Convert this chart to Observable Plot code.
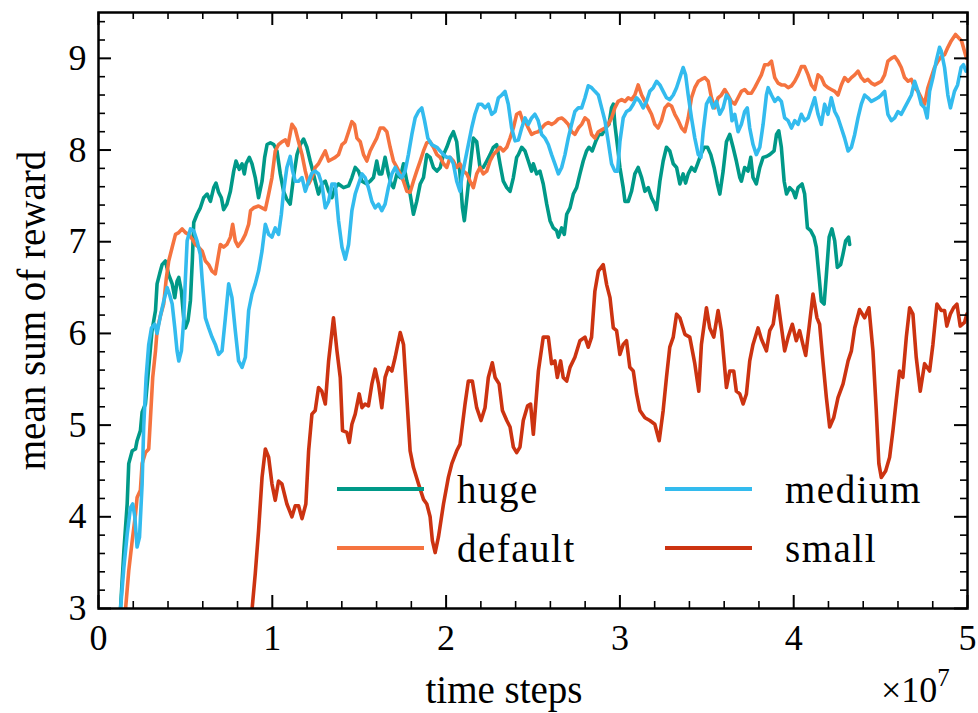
<!DOCTYPE html>
<html><head><meta charset="utf-8">
<script src="https://cdn.jsdelivr.net/npm/d3@7"></script>
<script src="https://cdn.jsdelivr.net/npm/@observablehq/plot@0.6"></script>
<style>
html,body{margin:0;padding:0;background:#fff;}
#chart{width:978px;height:713px;}
svg text{font-family:"Liberation Serif","DejaVu Serif","Noto Serif","Times New Roman",Times,serif !important;}
</style></head><body><div id="chart"></div>
<script>
// ---- data: [time steps (x1e7), mean sum of reward] ----
const huge = [[0.126,2.98],[0.146,3.63],[0.165,4.14],[0.174,4.58],[0.194,4.72],[0.213,4.74],[0.222,4.83],[0.241,4.94],[0.251,5.14],[0.270,5.23],[0.289,5.63],[0.308,6.03],[0.328,6.25],[0.337,6.54],[0.356,6.68],[0.366,6.75],[0.385,6.79],[0.404,6.64],[0.424,6.54],[0.439,6.39],[0.452,6.57],[0.462,6.61],[0.477,6.46],[0.490,6.17],[0.500,6.06],[0.515,6.14],[0.529,6.36],[0.540,6.80],[0.548,7.21],[0.567,7.30],[0.586,7.37],[0.605,7.48],[0.625,7.52],[0.644,7.44],[0.663,7.59],[0.676,7.64],[0.691,7.54],[0.707,7.48],[0.720,7.35],[0.739,7.41],[0.759,7.55],[0.778,7.77],[0.791,7.88],[0.810,7.79],[0.826,7.85],[0.839,7.74],[0.849,7.85],[0.868,7.92],[0.883,7.85],[0.902,7.70],[0.921,7.48],[0.941,7.66],[0.956,7.92],[0.970,8.06],[0.989,8.08],[1.008,8.06],[1.027,7.99],[1.046,7.74],[1.065,7.55],[1.084,7.46],[1.103,7.41],[1.122,7.70],[1.142,7.95],[1.161,8.06],[1.180,8.12],[1.199,8.03],[1.218,7.88],[1.228,7.81],[1.247,7.66],[1.266,7.52],[1.285,7.63],[1.305,7.66],[1.324,7.55],[1.343,7.48],[1.362,7.59],[1.381,7.63],[1.410,7.59],[1.439,7.61],[1.458,7.70],[1.477,7.81],[1.496,7.77],[1.516,7.66],[1.544,7.63],[1.563,7.66],[1.582,7.70],[1.601,7.88],[1.615,7.74],[1.630,7.74],[1.649,7.92],[1.668,7.74],[1.684,7.63],[1.697,7.59],[1.717,7.74],[1.736,7.70],[1.755,7.85],[1.774,7.66],[1.793,7.52],[1.812,7.30],[1.831,7.44],[1.851,7.63],[1.870,7.70],[1.889,7.95],[1.908,7.92],[1.927,7.81],[1.947,7.77],[1.966,7.81],[1.985,7.95],[2.004,8.03],[2.023,8.13],[2.042,8.20],[2.061,8.09],[2.080,7.74],[2.094,7.37],[2.105,7.23],[2.122,7.52],[2.138,7.81],[2.157,8.13],[2.176,8.09],[2.195,7.81],[2.214,7.81],[2.234,7.88],[2.253,7.95],[2.272,8.03],[2.291,8.06],[2.310,7.85],[2.329,7.66],[2.349,7.59],[2.368,7.55],[2.387,7.70],[2.406,7.92],[2.416,7.95],[2.435,8.03],[2.454,7.99],[2.473,7.88],[2.492,7.77],[2.502,7.85],[2.521,7.74],[2.540,7.77],[2.559,7.63],[2.579,7.41],[2.598,7.23],[2.617,7.15],[2.636,7.12],[2.646,7.05],[2.665,7.15],[2.680,7.08],[2.694,7.30],[2.713,7.37],[2.732,7.52],[2.751,7.59],[2.770,7.74],[2.789,7.88],[2.808,7.99],[2.822,8.03],[2.841,7.99],[2.860,8.09],[2.879,8.17],[2.898,8.17],[2.917,8.24],[2.937,8.28],[2.952,8.46],[2.962,8.50],[2.971,8.28],[2.987,8.03],[3.000,7.81],[3.019,7.59],[3.029,7.44],[3.048,7.44],[3.067,7.55],[3.086,7.74],[3.105,7.81],[3.125,7.70],[3.144,7.55],[3.163,7.59],[3.182,7.48],[3.201,7.41],[3.211,7.35],[3.230,7.66],[3.249,7.88],[3.268,8.03],[3.287,7.99],[3.307,7.85],[3.326,7.81],[3.345,7.63],[3.364,7.74],[3.378,7.64],[3.393,7.74],[3.412,7.81],[3.431,7.77],[3.447,7.85],[3.466,7.95],[3.485,8.03],[3.504,8.03],[3.523,7.95],[3.542,7.81],[3.561,7.63],[3.575,7.52],[3.594,7.77],[3.613,8.09],[3.632,8.17],[3.651,8.03],[3.670,7.88],[3.690,7.70],[3.699,7.66],[3.718,7.81],[3.737,7.77],[3.753,7.92],[3.766,7.70],[3.785,7.63],[3.805,7.81],[3.824,7.92],[3.843,7.93],[3.862,7.95],[3.887,7.99],[3.901,8.17],[3.914,8.21],[3.929,8.03],[3.945,7.66],[3.959,7.52],[3.977,7.59],[3.997,7.55],[4.010,7.48],[4.025,7.59],[4.048,7.63],[4.063,7.52],[4.079,7.15],[4.098,7.12],[4.117,7.05],[4.130,6.94],[4.145,6.64],[4.159,6.35],[4.175,6.32],[4.188,6.64],[4.204,7.05],[4.220,7.14],[4.236,7.01],[4.251,6.72],[4.270,6.75],[4.283,6.86],[4.299,7.01],[4.316,7.05],[4.322,6.97]];

const defaultRun = [[0.155,2.98],[0.174,3.41],[0.194,3.74],[0.213,4.03],[0.222,4.21],[0.241,4.29],[0.251,4.58],[0.270,4.70],[0.289,4.74],[0.299,5.08],[0.312,5.52],[0.328,5.81],[0.337,6.03],[0.356,6.19],[0.375,6.32],[0.390,6.60],[0.404,6.79],[0.424,6.94],[0.443,7.08],[0.462,7.10],[0.481,7.14],[0.500,7.10],[0.519,7.08],[0.539,7.03],[0.557,6.97],[0.576,6.94],[0.596,6.90],[0.615,6.79],[0.634,6.75],[0.653,6.68],[0.672,6.65],[0.691,6.86],[0.701,6.97],[0.720,6.94],[0.739,6.97],[0.759,7.05],[0.772,7.19],[0.787,7.01],[0.803,6.95],[0.826,7.01],[0.845,7.08],[0.864,7.19],[0.875,7.34],[0.893,7.37],[0.921,7.39],[0.941,7.37],[0.960,7.35],[0.979,7.52],[0.998,7.70],[1.017,7.99],[1.036,8.06],[1.055,8.09],[1.075,8.11],[1.090,8.05],[1.113,8.28],[1.132,8.23],[1.151,8.09],[1.171,7.95],[1.190,7.77],[1.209,7.63],[1.228,7.70],[1.247,7.81],[1.266,7.85],[1.285,7.92],[1.305,7.99],[1.324,7.88],[1.343,7.90],[1.362,7.92],[1.381,7.95],[1.401,8.06],[1.420,8.09],[1.439,8.20],[1.458,8.31],[1.473,8.28],[1.487,8.13],[1.506,8.09],[1.525,7.95],[1.544,7.88],[1.563,7.99],[1.582,8.06],[1.601,8.13],[1.621,8.24],[1.640,8.24],[1.659,8.20],[1.678,8.03],[1.697,7.88],[1.717,7.81],[1.736,7.74],[1.755,7.66],[1.774,7.55],[1.793,7.54],[1.812,7.66],[1.831,7.77],[1.851,7.88],[1.870,7.99],[1.889,8.08],[1.908,8.09],[1.927,8.03],[1.947,7.95],[1.966,7.92],[1.985,7.85],[2.004,7.81],[2.023,7.92],[2.042,7.88],[2.061,7.81],[2.080,7.85],[2.100,7.77],[2.119,7.74],[2.138,7.66],[2.157,7.59],[2.176,7.74],[2.195,7.81],[2.214,7.74],[2.234,7.77],[2.253,7.88],[2.272,7.95],[2.291,7.99],[2.310,8.03],[2.329,7.99],[2.349,8.03],[2.368,8.13],[2.387,8.24],[2.406,8.39],[2.425,8.41],[2.444,8.30],[2.454,8.32],[2.473,8.24],[2.492,8.17],[2.511,8.19],[2.530,8.20],[2.550,8.24],[2.569,8.28],[2.588,8.30],[2.607,8.28],[2.626,8.30],[2.646,8.34],[2.665,8.35],[2.684,8.32],[2.703,8.28],[2.722,8.20],[2.741,8.17],[2.761,8.24],[2.780,8.28],[2.799,8.35],[2.818,8.32],[2.837,8.17],[2.856,8.13],[2.876,8.20],[2.895,8.22],[2.914,8.24],[2.933,8.28],[2.952,8.35],[2.971,8.46],[2.990,8.53],[3.010,8.55],[3.029,8.53],[3.048,8.57],[3.067,8.55],[3.086,8.60],[3.105,8.71],[3.125,8.60],[3.144,8.53],[3.163,8.46],[3.182,8.39],[3.201,8.28],[3.220,8.24],[3.239,8.32],[3.259,8.46],[3.278,8.50],[3.297,8.48],[3.316,8.39],[3.336,8.32],[3.355,8.24],[3.374,8.20],[3.393,8.35],[3.412,8.57],[3.431,8.68],[3.451,8.75],[3.469,8.77],[3.489,8.79],[3.508,8.75],[3.527,8.57],[3.546,8.46],[3.565,8.57],[3.584,8.60],[3.603,8.66],[3.622,8.60],[3.641,8.53],[3.661,8.50],[3.680,8.57],[3.699,8.64],[3.718,8.66],[3.737,8.62],[3.757,8.62],[3.776,8.68],[3.795,8.75],[3.814,8.82],[3.833,8.93],[3.853,8.93],[3.872,8.97],[3.891,8.79],[3.910,8.73],[3.929,8.71],[3.948,8.71],[3.968,8.68],[3.987,8.70],[4.006,8.75],[4.025,8.82],[4.044,8.91],[4.063,8.91],[4.083,8.82],[4.102,8.71],[4.121,8.66],[4.140,8.82],[4.159,8.79],[4.178,8.71],[4.197,8.68],[4.216,8.66],[4.236,8.64],[4.255,8.60],[4.274,8.71],[4.293,8.79],[4.313,8.75],[4.332,8.79],[4.351,8.82],[4.370,8.86],[4.389,8.79],[4.408,8.75],[4.427,8.77],[4.447,8.73],[4.466,8.71],[4.485,8.73],[4.504,8.75],[4.523,8.82],[4.542,8.97],[4.562,9.00],[4.581,9.02],[4.600,8.97],[4.619,8.90],[4.638,8.79],[4.658,8.75],[4.677,8.77],[4.696,8.68],[4.715,8.64],[4.734,8.57],[4.753,8.50],[4.772,8.68],[4.791,8.79],[4.810,8.90],[4.830,8.97],[4.849,9.02],[4.868,9.04],[4.887,9.12],[4.906,9.19],[4.931,9.26],[4.966,9.19],[4.994,9.00]];

const medium = [[0.126,2.98],[0.146,3.45],[0.165,3.81],[0.184,4.10],[0.197,4.14],[0.209,4.00],[0.222,3.67],[0.236,3.78],[0.251,4.36],[0.260,4.98],[0.274,5.52],[0.289,5.88],[0.305,6.06],[0.324,6.10],[0.337,6.00],[0.356,6.19],[0.375,6.35],[0.395,6.50],[0.408,6.43],[0.424,6.32],[0.439,6.06],[0.452,5.81],[0.462,5.70],[0.477,5.81],[0.490,6.14],[0.500,6.60],[0.510,7.01],[0.529,7.14],[0.548,7.12],[0.567,7.01],[0.586,6.86],[0.596,6.60],[0.615,6.17],[0.634,6.06],[0.653,5.96],[0.672,5.88],[0.691,5.77],[0.711,5.81],[0.730,6.17],[0.749,6.54],[0.768,6.39],[0.787,6.03],[0.806,5.70],[0.826,5.63],[0.845,5.74],[0.864,6.25],[0.883,6.43],[0.902,6.54],[0.921,6.68],[0.941,6.90],[0.960,7.19],[0.979,7.08],[0.998,7.05],[1.017,7.15],[1.036,7.08],[1.052,7.30],[1.065,7.55],[1.084,7.81],[1.103,7.93],[1.117,7.77],[1.132,7.66],[1.151,7.66],[1.171,7.70],[1.190,7.55],[1.209,7.66],[1.228,7.75],[1.247,7.77],[1.266,7.74],[1.285,7.63],[1.305,7.37],[1.324,7.44],[1.343,7.63],[1.362,7.63],[1.381,7.23],[1.401,6.94],[1.420,6.81],[1.439,6.97],[1.458,7.34],[1.477,7.52],[1.496,7.63],[1.516,7.74],[1.534,7.70],[1.553,7.59],[1.573,7.44],[1.592,7.37],[1.611,7.41],[1.630,7.34],[1.649,7.41],[1.668,7.59],[1.688,7.74],[1.707,7.81],[1.726,7.74],[1.745,7.70],[1.764,7.77],[1.783,7.95],[1.803,8.17],[1.822,8.35],[1.841,8.42],[1.860,8.46],[1.876,8.32],[1.895,8.13],[1.917,8.06],[1.947,8.03],[1.966,7.99],[1.985,7.95],[2.004,7.92],[2.023,7.92],[2.042,7.85],[2.061,7.66],[2.080,7.55],[2.090,7.70],[2.109,7.88],[2.128,8.06],[2.147,8.24],[2.166,8.39],[2.186,8.50],[2.205,8.50],[2.224,8.46],[2.243,8.50],[2.262,8.39],[2.282,8.42],[2.301,8.57],[2.320,8.60],[2.339,8.64],[2.358,8.50],[2.377,8.24],[2.397,8.10],[2.416,8.11],[2.435,8.24],[2.454,8.35],[2.473,8.28],[2.492,8.35],[2.511,8.39],[2.530,8.32],[2.550,8.17],[2.569,8.13],[2.588,8.06],[2.607,7.95],[2.626,7.85],[2.646,7.74],[2.665,7.81],[2.684,7.95],[2.703,8.13],[2.722,8.28],[2.741,8.42],[2.761,8.46],[2.780,8.46],[2.799,8.57],[2.818,8.70],[2.837,8.68],[2.856,8.64],[2.876,8.60],[2.895,8.46],[2.914,8.32],[2.933,8.09],[2.952,7.85],[2.971,7.77],[2.987,7.77],[3.000,8.09],[3.019,8.35],[3.038,8.42],[3.057,8.44],[3.077,8.50],[3.096,8.57],[3.115,8.53],[3.134,8.46],[3.153,8.53],[3.172,8.64],[3.192,8.68],[3.211,8.75],[3.230,8.71],[3.249,8.64],[3.268,8.57],[3.287,8.55],[3.307,8.60],[3.326,8.68],[3.345,8.79],[3.364,8.90],[3.378,8.82],[3.393,8.60],[3.412,8.35],[3.431,8.13],[3.451,7.95],[3.466,7.92],[3.479,8.20],[3.498,8.50],[3.517,8.57],[3.536,8.46],[3.556,8.53],[3.575,8.39],[3.594,8.46],[3.613,8.60],[3.632,8.55],[3.645,8.32],[3.661,8.39],[3.680,8.20],[3.699,8.28],[3.718,8.42],[3.733,8.46],[3.747,8.24],[3.766,8.06],[3.785,7.95],[3.805,8.03],[3.824,8.28],[3.843,8.60],[3.853,8.68],[3.872,8.60],[3.891,8.53],[3.910,8.57],[3.929,8.53],[3.948,8.35],[3.968,8.32],[3.987,8.24],[4.006,8.32],[4.025,8.28],[4.044,8.39],[4.063,8.32],[4.083,8.35],[4.102,8.46],[4.121,8.57],[4.140,8.39],[4.159,8.28],[4.178,8.50],[4.197,8.39],[4.216,8.57],[4.236,8.42],[4.255,8.35],[4.274,8.24],[4.293,8.13],[4.313,7.99],[4.332,8.03],[4.351,8.17],[4.370,8.35],[4.389,8.50],[4.408,8.60],[4.427,8.57],[4.447,8.53],[4.466,8.55],[4.485,8.57],[4.504,8.60],[4.523,8.64],[4.542,8.39],[4.562,8.32],[4.581,8.35],[4.600,8.42],[4.619,8.39],[4.638,8.46],[4.658,8.53],[4.677,8.60],[4.696,8.75],[4.715,8.64],[4.734,8.50],[4.753,8.46],[4.768,8.35],[4.782,8.64],[4.801,8.79],[4.820,8.97],[4.839,9.12],[4.849,9.08],[4.868,8.90],[4.887,8.60],[4.902,8.46],[4.925,8.64],[4.943,8.71],[4.963,8.90],[4.977,8.93],[4.991,8.86]];

const small = [[0.883,2.98],[0.902,3.38],[0.921,3.85],[0.941,4.43],[0.960,4.74],[0.979,4.65],[0.998,4.36],[1.017,4.18],[1.036,4.39],[1.055,4.36],[1.084,4.14],[1.113,4.00],[1.132,4.12],[1.151,4.12],[1.171,3.98],[1.193,4.14],[1.209,4.72],[1.228,5.12],[1.247,5.16],[1.266,5.41],[1.285,5.37],[1.305,5.23],[1.324,5.70],[1.352,6.17],[1.372,5.81],[1.391,5.52],[1.404,4.94],[1.429,4.92],[1.443,4.81],[1.458,5.01],[1.477,5.12],[1.500,5.34],[1.516,5.19],[1.534,5.23],[1.553,5.21],[1.573,5.45],[1.592,5.61],[1.611,5.45],[1.630,5.19],[1.649,5.52],[1.668,5.63],[1.688,5.59],[1.707,5.74],[1.736,6.01],[1.755,5.88],[1.774,5.30],[1.793,4.72],[1.812,4.54],[1.841,4.36],[1.870,4.19],[1.889,4.14],[1.908,4.00],[1.921,3.74],[1.937,3.61],[1.956,3.78],[1.985,4.14],[2.013,4.43],[2.033,4.58],[2.061,4.72],[2.080,4.79],[2.109,5.23],[2.128,5.48],[2.151,5.48],[2.176,5.19],[2.201,5.05],[2.224,5.19],[2.243,5.52],[2.266,5.68],[2.282,5.52],[2.305,5.45],[2.324,5.16],[2.349,5.05],[2.368,4.98],[2.387,4.76],[2.406,4.70],[2.425,4.76],[2.444,5.05],[2.469,5.21],[2.486,5.23],[2.502,4.90],[2.531,5.59],[2.559,5.96],[2.588,5.96],[2.607,5.67],[2.626,5.70],[2.640,5.52],[2.659,5.70],[2.674,5.52],[2.694,5.48],[2.713,5.63],[2.741,5.74],[2.770,5.92],[2.799,5.96],[2.818,5.85],[2.837,5.96],[2.856,6.46],[2.876,6.68],[2.904,6.75],[2.924,6.53],[2.943,6.39],[2.962,6.06],[2.981,6.03],[3.000,5.77],[3.019,5.88],[3.038,5.92],[3.057,5.63],[3.077,5.59],[3.096,5.34],[3.115,5.16],[3.144,5.08],[3.172,5.05],[3.201,5.01],[3.226,4.83],[3.249,5.16],[3.268,5.52],[3.287,5.85],[3.307,5.96],[3.326,6.21],[3.345,6.17],[3.374,5.99],[3.402,5.96],[3.431,5.67],[3.454,5.37],[3.469,5.88],[3.498,6.28],[3.517,6.06],[3.540,5.96],[3.565,6.25],[3.584,6.03],[3.613,5.41],[3.632,5.59],[3.655,5.59],[3.670,5.37],[3.690,5.34],[3.709,5.23],[3.728,5.34],[3.747,5.70],[3.766,5.88],[3.795,6.06],[3.814,5.94],[3.843,5.81],[3.862,6.03],[3.882,6.10],[3.905,6.41],[3.924,6.14],[3.948,5.81],[3.968,5.96],[3.992,6.10],[4.015,5.92],[4.034,6.03],[4.053,5.88],[4.069,5.76],[4.088,6.06],[4.111,6.43],[4.134,6.17],[4.149,6.10],[4.168,5.70],[4.188,5.30],[4.207,4.98],[4.230,5.08],[4.255,5.30],[4.284,5.45],[4.313,5.70],[4.332,5.81],[4.351,6.06],[4.379,6.26],[4.408,6.17],[4.433,6.28],[4.456,5.81],[4.475,5.16],[4.490,4.58],[4.504,4.43],[4.529,4.50],[4.552,4.65],[4.571,4.94],[4.590,5.27],[4.609,5.59],[4.628,5.52],[4.648,5.96],[4.667,6.28],[4.686,6.21],[4.705,5.74],[4.728,5.37],[4.753,5.67],[4.782,5.59],[4.801,5.88],[4.824,6.32],[4.849,6.25],[4.868,6.25],[4.881,6.08],[4.901,6.21],[4.920,6.28],[4.939,6.32],[4.958,6.08],[4.983,6.12],[4.996,6.21]];

const seriesNames = ["huge", "default", "medium", "small"];
const seriesColors = ["#009988", "#F5733F", "#33BBEE", "#CC3311"];
const xMajor = [0, 1, 2, 3, 4, 5];
const xMinor = [0.2,0.4,0.6,0.8,1.2,1.4,1.6,1.8,2.2,2.4,2.6,2.8,3.2,3.4,3.6,3.8,4.2,4.4,4.6,4.8];
const yMajor = [3, 4, 5, 6, 7, 8, 9];
const yMinor = [3.2,3.4,3.6,3.8,4.2,4.4,4.6,4.8,5.2,5.4,5.6,5.8,6.2,6.4,6.6,6.8,7.2,7.4,7.6,7.8,8.2,8.4,8.6,8.8,9.2,9.4];
const xLabel = "time steps";
const yLabel = "mean sum of reward";

// ---- layout ----
const W = 978, H = 713, mt = 12, mr = 11, mb = 105, ml = 98;
const ih = H - mt - mb, iw = W - ml - mr;
const FONT = "'Liberation Serif', 'DejaVu Serif', 'Noto Serif', serif";
const FS = 36, LFS = 39, LS = "1.5px";
const majorLen = 13, minorLen = 7;

const runs = [huge, defaultRun, medium, small];
const rows = [];
runs.forEach((run, i) => run.forEach(([t, v]) => rows.push({series: seriesNames[i], t, v})));

const tickRules = (len, w) => [
  Plot.ruleX(len === majorLen ? xMajor : xMinor, {x: d => d, insetTop: ih - len, stroke: "black", strokeWidth: w}),
  Plot.ruleX(len === majorLen ? xMajor : xMinor, {x: d => d, insetBottom: ih - len, stroke: "black", strokeWidth: w}),
  Plot.ruleY(len === majorLen ? yMajor : yMinor, {y: d => d, insetRight: iw - len, stroke: "black", strokeWidth: w}),
  Plot.ruleY(len === majorLen ? yMajor : yMinor, {y: d => d, insetLeft: iw - len, stroke: "black", strokeWidth: w})
];

const chart = Plot.plot({
  width: W, height: H,
  marginTop: mt, marginRight: mr, marginBottom: mb, marginLeft: ml,
  style: {fontFamily: FONT, fontSize: FS + "px", background: "white", color: "black", overflow: "visible"},
  x: {domain: [0, 5]},
  y: {domain: [3, 9.5]},
  color: {domain: seriesNames, range: seriesColors},
  marks: [
    Plot.line(rows, {x: "t", y: "v", z: "series", stroke: "series", strokeWidth: 3.6, strokeLinejoin: "round", strokeLinecap: "round", clip: true}),
    Plot.axisX({ticks: xMajor, tickSize: 0, tickPadding: 16, label: null, tickFormat: d => String(d)}),
    Plot.axisY({ticks: yMajor, tickSize: 0, tickPadding: 12, label: null, tickFormat: d => String(d)}),
    ...tickRules(majorLen, 2),
    ...tickRules(minorLen, 1.6),
    Plot.frame({stroke: "black", strokeWidth: 2.5}),
    Plot.text([xLabel], {text: d => d, frameAnchor: "bottom", dx: -29, dy: 82, lineAnchor: "middle", textAnchor: "middle", fontSize: LFS, fill: "black", letterSpacing: LS}),
    Plot.text([yLabel], {text: d => d, frameAnchor: "left", dx: -66, rotate: -90, lineAnchor: "middle", textAnchor: "middle", fontSize: LFS, fill: "black", letterSpacing: LS})
  ]
});
document.getElementById("chart").appendChild(chart);

// ---- legend & axis multiplier (overlay inside the svg) ----
const svg = d3.select(chart.tagName.toLowerCase() === "svg" ? chart : chart.querySelector("svg"));
const g = svg.append("g").attr("font-size", LFS).attr("fill", "black").attr("text-anchor", "start");
const legendCols = [337, 665], legendRows = [489, 548];
seriesNames.forEach((name, i) => {
  const x0 = legendCols[Math.floor(i / 2)], y0 = legendRows[i % 2];
  g.append("line").attr("x1", x0).attr("x2", x0 + 87).attr("y1", y0).attr("y2", y0)
    .attr("stroke", seriesColors[i]).attr("stroke-width", 4);
  g.append("text").attr("x", x0 + 120).attr("y", y0 + 14).attr("letter-spacing", LS).text(name);
});
const mult = g.append("text").attr("x", 881).attr("y", 702).attr("font-size", FS);
mult.append("tspan").text("×10");
mult.append("tspan").attr("dy", -16).attr("font-size", 25).text("7");
</script></body></html>
